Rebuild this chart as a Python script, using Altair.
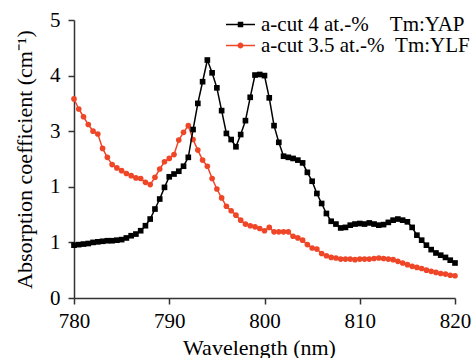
import json
import altair as alt
import pandas as pd

wavelength = [780.0, 780.5, 781.0, 781.5, 782.0, 782.5, 783.0, 783.5, 784.0, 784.5,
              785.0, 785.5, 786.0, 786.5, 787.0, 787.5, 788.0, 788.5, 789.0, 789.5,
              790.0, 790.5, 791.0, 791.5, 792.0, 792.5, 793.0, 793.5, 794.0, 794.5,
              795.0, 795.5, 796.0, 796.5, 797.0, 797.5, 798.0, 798.5, 799.0, 799.5,
              800.0, 800.5, 801.0, 801.5, 802.0, 802.5, 803.0, 803.5, 804.0, 804.5,
              805.0, 805.5, 806.0, 806.5, 807.0, 807.5, 808.0, 808.5, 809.0, 809.5,
              810.0, 810.5, 811.0, 811.5, 812.0, 812.5, 813.0, 813.5, 814.0, 814.5,
              815.0, 815.5, 816.0, 816.5, 817.0, 817.5, 818.0, 818.5, 819.0, 819.5,
              820.0]

yap = [0.95, 0.96, 0.97, 0.98, 1.00, 1.01, 1.02, 1.03, 1.03, 1.04,
       1.05, 1.08, 1.12, 1.15, 1.21, 1.30, 1.42, 1.60, 1.78, 1.99,
       2.18, 2.23, 2.28, 2.37, 2.53, 3.03, 3.50, 3.89, 4.28, 4.05,
       3.78, 3.37, 2.96, 2.85, 2.72, 2.94, 3.19, 3.61, 4.01, 4.02,
       4.00, 3.60, 3.10, 2.80, 2.55, 2.53, 2.51, 2.48, 2.43, 2.26,
       2.10, 1.88, 1.70, 1.52, 1.38, 1.33, 1.26, 1.27, 1.31, 1.33,
       1.34, 1.33, 1.35, 1.33, 1.31, 1.32, 1.36, 1.40, 1.42, 1.40,
       1.37, 1.27, 1.13, 1.04, 0.95, 0.87, 0.81, 0.77, 0.73, 0.68,
       0.63]

ylf = [3.58, 3.40, 3.26, 3.12, 3.00, 2.95, 2.69, 2.53, 2.40, 2.34,
       2.29, 2.24, 2.20, 2.16, 2.15, 2.08, 2.04, 2.17, 2.32, 2.45,
       2.51, 2.58, 2.84, 2.98, 3.10, 2.85, 2.66, 2.48, 2.37, 2.15,
       1.96, 1.80, 1.65, 1.57, 1.49, 1.40, 1.33, 1.30, 1.28, 1.25,
       1.21, 1.27, 1.19, 1.19, 1.19, 1.19, 1.11, 1.08, 1.04, 0.96,
       0.90, 0.88, 0.80, 0.76, 0.73, 0.72, 0.70, 0.70, 0.70, 0.69,
       0.70, 0.70, 0.70, 0.71, 0.72, 0.71, 0.70, 0.69, 0.66, 0.63,
       0.60, 0.57, 0.55, 0.53, 0.50, 0.48, 0.46, 0.44, 0.43, 0.41,
       0.40]

NB = "\u00a0"
series_names = ["a-cut 4 at.-%" + NB * 4 + "Tm:YAP",
                "a-cut 3.5 at.-%" + NB * 2 + "Tm:YLF"]
series_colors = ["#000000", "#ef4628"]

x_ticks = [780, 790, 800, 810, 820]
y_ticks = [0, 0.5, 1, 1.5, 2, 2.5, 3, 3.5, 4, 4.5, 5]
y_tick_labels = ["0", "1", "1", "3", "4", "5"]

FONT = "Liberation Serif"
W, H = 381, 278
X_MIN, X_MAX, Y_MIN, Y_MAX = 780, 820, 0, 5

rows = []
for w, a, b in zip(wavelength, yap, ylf):
    rows.append({"wavelength": w, "value": a, "series": series_names[0]})
    rows.append({"wavelength": w, "value": b, "series": series_names[1]})
df = pd.DataFrame(rows)

x_scale = alt.Scale(domain=[X_MIN, X_MAX], nice=False, zero=False)
y_scale = alt.Scale(domain=[Y_MIN, Y_MAX], nice=False)

label_expr = ("datum.value % 1 === 0 ? " + json.dumps(y_tick_labels) +
              "[datum.value] : ''")

x_main = alt.X("wavelength:Q", scale=x_scale,
               axis=alt.Axis(values=x_ticks, ticks=True, tickSize=6, tickWidth=1.5,
                             tickColor="#333", grid=False,
                             labelFont=FONT, labelFontSize=21, labelColor="#000",
                             labelPadding=6, labelFlush=False,
                             domainColor="#333", domainWidth=1.5,
                             title="Wavelength (nm)", titleFont=FONT,
                             titleFontSize=22, titleFontWeight="normal",
                             titleColor="#000", titleX=185, titleY=56,
                             titleBaseline="alphabetic", titleAlign="center"))
y_main = alt.Y("value:Q", scale=y_scale,
               axis=alt.Axis(values=y_ticks, ticks=True, tickSize=6, tickWidth=1.5,
                             tickColor="#333", grid=False,
                             labelExpr=label_expr, labelOverlap=False,
                             labelFont=FONT, labelFontSize=21, labelColor="#000",
                             labelPadding=8, labelFlush=False,
                             domainColor="#333", domainWidth=1.5,
                             title="Absorption coefficient (cm\u207b\u00b9)",
                             titleFont=FONT, titleFontSize=22,
                             titleFontWeight="normal", titleColor="#000",
                             titleX=-38, titleY=H / 2, titleAngle=270,
                             titleAlign="center", titleBaseline="bottom"))

base = alt.Chart(df)
yap_data = base.transform_filter(alt.datum.series == series_names[0])
ylf_data = base.transform_filter(alt.datum.series == series_names[1])

red_line = ylf_data.mark_line(strokeWidth=1.5, color=series_colors[1]).encode(
    x=x_main, y=y_main)
red_pts = ylf_data.mark_point(filled=True, opacity=1, shape="circle", size=32,
                              color=series_colors[1]).encode(
    x="wavelength:Q", y="value:Q")
blk_line = yap_data.mark_line(strokeWidth=1.5, color=series_colors[0]).encode(
    x="wavelength:Q", y="value:Q")
blk_pts = yap_data.mark_point(filled=True, opacity=1, shape="square", size=32,
                              color=series_colors[0]).encode(
    x="wavelength:Q", y="value:Q")

# legend symbols: line segment with marker (fill-only paths)
path_sq = ("M-2.42,-0.13H2.42V0.13H-2.42Z"
           "M-0.46,-0.46H0.46V0.46H-0.46Z")
path_ci = ("M-2.42,-0.13H2.42V0.13H-2.42Z"
           "M0.5,0A0.5,0.5 0 1,1 -0.5,0A0.5,0.5 0 1,1 0.5,0Z")

legend_props = dict(title=None, orient="none", legendX=156, legendY=-6,
                    padding=0, labelFont=FONT, labelFontSize=21,
                    labelColor="#000", labelLimit=400, labelOffset=10,
                    rowPadding=-2, symbolSize=144, symbolOpacity=1)

legend_layer = base.mark_point(filled=True, opacity=0, size=144).encode(
    x="wavelength:Q", y="value:Q",
    color=alt.Color("series:N",
                    scale=alt.Scale(domain=series_names, range=series_colors),
                    legend=alt.Legend(**legend_props)),
    shape=alt.Shape("series:N",
                    scale=alt.Scale(domain=series_names, range=[path_sq, path_ci]),
                    legend=alt.Legend(**legend_props)))

chart = alt.layer(red_line, red_pts, blk_line, blk_pts, legend_layer).properties(
    width=W, height=H,
    autosize=alt.AutoSizeParams(type="none"),
    padding={"left": 74, "top": 20, "right": 21, "bottom": 60},
    background="white",
).configure_view(stroke=None)

chart.save("out.html", embed_options={"renderer": "svg", "actions": False})
